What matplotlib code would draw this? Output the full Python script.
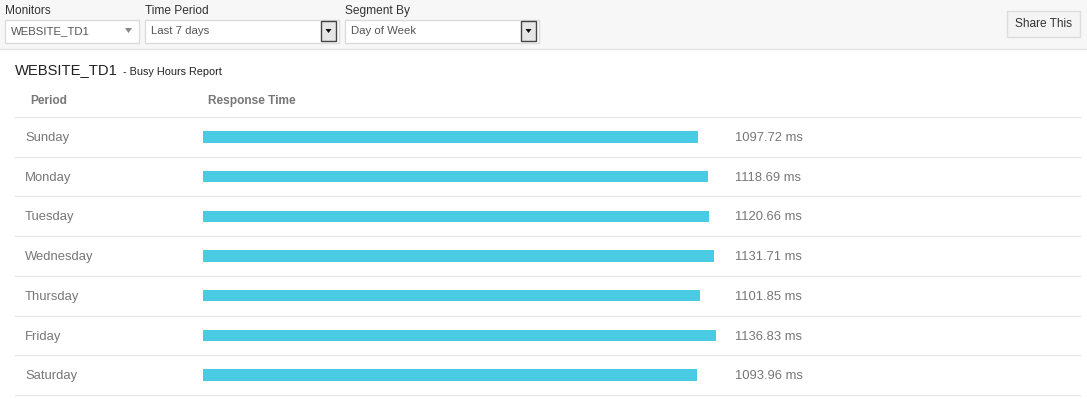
import matplotlib
matplotlib.use("Agg")
import matplotlib.pyplot as plt
import matplotlib.patches as patches
import matplotlib.transforms as mtransforms

# Data
periods = ["Sunday", "Monday", "Tuesday", "Wednesday", "Thursday", "Friday", "Saturday"]
response_ms = [1097.72, 1118.69, 1120.66, 1131.71, 1101.85, 1136.83, 1093.96]
monitor = "WEBSITE_TD1"
time_period = "Last 7 days"
segment_by = "Day of Week"

plt.rcParams['font.family'] = ['Liberation Sans', 'DejaVu Sans']

W, H = 1087, 399
fig = plt.figure(figsize=(W / 100, H / 100), dpi=100)
fig.patch.set_facecolor("white")

# background axes in pixel coordinates
bg = fig.add_axes([0, 0, 1, 1])
bg.set_xlim(0, W)
bg.set_ylim(H, 0)
bg.axis("off")

# top toolbar
bg.add_patch(patches.Rectangle((0, 0), W, 49, facecolor="#f7f7f7", edgecolor="none"))
bg.plot([0, W], [49, 49], color="#e3e3e3", lw=1)

def dropdown(x, w, label, value, button=True):
    bg.text(x, 11, label, fontsize=8.6, color="#333333", va="center", ha="left")
    bg.add_patch(patches.Rectangle((x, 19.5), w, 23, facecolor="white", edgecolor="#dcdcdc", lw=1))
    bg.text(x + 6, 31.5, value, fontsize=8.2, color="#555555", va="center", ha="left")
    if button:
        bx = x + w - 18
        bg.add_patch(patches.Rectangle((bx, 21), 15, 20, facecolor="#e6e6e6", edgecolor="#444444", lw=1))
        bg.add_patch(patches.Polygon([(bx + 4.5, 29), (bx + 10.5, 29), (bx + 7.5, 33)],
                                     closed=True, facecolor="#111111", edgecolor="none"))
    else:
        bx = x + w - 14
        bg.add_patch(patches.Polygon([(bx, 28), (bx + 7, 28), (bx + 3.5, 33)],
                                     closed=True, facecolor="#888888", edgecolor="none"))

dropdown(5, 134, "Monitors", monitor, button=False)
dropdown(145, 194, "Time Period", time_period)
dropdown(345, 194, "Segment By", segment_by)

bg.add_patch(patches.Rectangle((1007, 11), 73, 26, facecolor="#f4f4f4", edgecolor="#dddddd", lw=1))
bg.text(1043.5, 24, "Share This", fontsize=8.6, color="#333333", va="center", ha="center")

# title
title = bg.text(15, 70, monitor, fontsize=10.6, color="#222222", va="center", ha="left")
bg.annotate("- Busy Hours Report", xy=(1, 0), xycoords=title, xytext=(4, 0),
            textcoords="offset points", fontsize=7.8, color="#222222", va="bottom", ha="left")

# column headers
bg.text(30, 101, "Period", fontsize=8.6, color="#777777", fontweight="bold", va="center", ha="left")
bg.text(208, 101, "Response Time", fontsize=8.6, color="#777777", fontweight="bold", va="center", ha="left")

# bar axes: x from 203 px to 716 px, rows from 117 px to 395 px
x0, x1 = 203, 716
y0, y1 = 117, 395
ax = fig.add_axes([x0 / W, 1 - y1 / H, (x1 - x0) / W, (y1 - y0) / H])
ax.set_facecolor("none")
n = len(periods)
ypos = list(range(n))
ax.barh(ypos, response_ms, height=0.29, color="#4acbe4")
ax.set_xlim(0, max(response_ms))
ax.set_ylim(n - 0.5, -0.5)
ax.axis("off")

span = x1 - x0
trans = mtransforms.blended_transform_factory(ax.transAxes, ax.transData)
for i, (p, v) in enumerate(zip(periods, response_ms)):
    ax.text((25 - x0) / span, i + 0.03, p, transform=trans, fontsize=9.4, color="#777777",
            va="center", ha="left", clip_on=False)
    ax.text((735 - x0) / span, i + 0.03, f"{v:.2f} ms", transform=trans, fontsize=9.4, color="#777777",
            va="center", ha="left", clip_on=False)

for k in range(n + 1):
    ax.plot([(15 - x0) / span, (1080 - x0) / span], [k - 0.5, k - 0.5], transform=trans,
            color="#e8e8e8", lw=1, clip_on=False)

fig.savefig("out.png", dpi=100, facecolor="white")
